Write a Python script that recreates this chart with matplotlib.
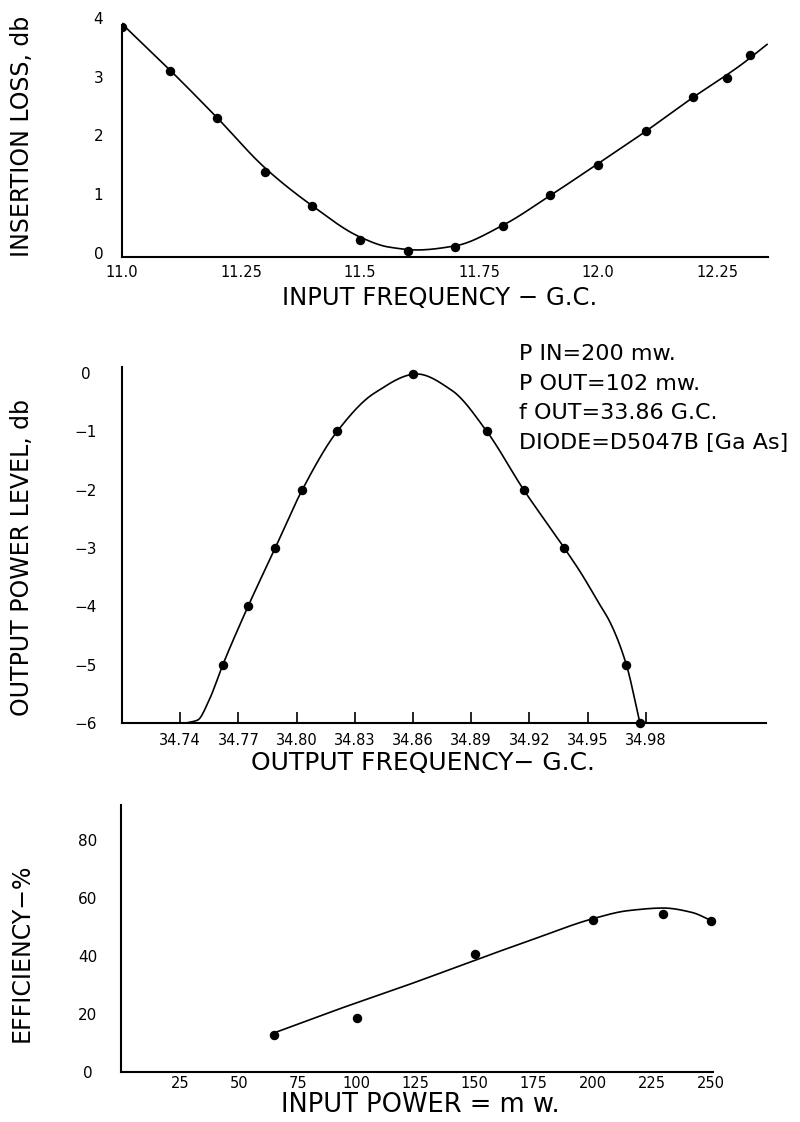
import numpy as np
import matplotlib
matplotlib.use("Agg")
import matplotlib.pyplot as plt

# ---------------- data ----------------
# Panel 1: insertion loss vs input frequency
top_freq = [11.0, 11.1, 11.2, 11.3, 11.4, 11.5, 11.6, 11.7, 11.8, 11.9, 12.0, 12.1, 12.2, 12.27, 12.32]
top_loss = [3.84, 3.1, 2.3, 1.38, 0.8, 0.22, 0.03, 0.1, 0.46, 0.99, 1.5, 2.08, 2.65, 2.98, 3.37]
top_curve_x = [11.0, 11.1, 11.2, 11.3, 11.4, 11.5, 11.56, 11.62, 11.7, 11.8, 11.9, 12.0, 12.1, 12.2, 12.3, 12.355]
top_curve_y = [3.9, 3.12, 2.3, 1.45, 0.8, 0.27, 0.1, 0.05, 0.12, 0.47, 0.98, 1.52, 2.07, 2.65, 3.2, 3.55]
top_xticks = [11.0, 11.25, 11.5, 11.75, 12.0, 12.25]
top_xticklabels = ["11.0", "11.25", "11.5", "11.75", "12.0", "12.25"]
top_yticks = [0, 1, 2, 3, 4]

# Panel 2: output power level vs output frequency
mid_freq = [34.762, 34.775, 34.789, 34.803, 34.821, 34.860, 34.898, 34.917, 34.938, 34.970, 34.977]
mid_level = [-5, -4, -3, -2, -1, -0.02, -1, -2, -3, -5, -6]
mid_curve_x = [34.743, 34.749, 34.755, 34.762, 34.775, 34.789, 34.803, 34.821, 34.840, 34.862,
               34.880, 34.898, 34.917, 34.938, 34.947, 34.955, 34.962, 34.970, 34.977]
mid_curve_y = [-6.0, -5.95, -5.6, -5.0, -4.0, -3.0, -2.0, -1.0, -0.35, -0.02,
               -0.3, -1.0, -2.0, -3.0, -3.45, -3.9, -4.3, -5.0, -6.0]
mid_xticks = [34.74, 34.77, 34.80, 34.83, 34.86, 34.89, 34.92, 34.95, 34.98]
mid_xticklabels = ["34.74", "34.77", "34.80", "34.83", "34.86", "34.89", "34.92", "34.95", "34.98"]
mid_yticks = [0, -1, -2, -3, -4, -5, -6]
mid_yticklabels = ["0", "\u22121", "\u22122", "\u22123", "\u22124", "\u22125", "\u22126"]
notes = ["P IN=200 mw.", "P OUT=102 mw.", "f OUT=33.86 G.C.", "DIODE=D5047B [Ga As]"]

# Panel 3: efficiency vs input power
bot_power = [65, 100, 150, 200, 230, 250]
bot_eff = [12.8, 18.5, 40.5, 52.5, 54.5, 52.2]
bot_curve_x = [65, 90, 125, 150, 175, 200, 215, 230, 242, 250]
bot_curve_y = [13.5, 21.0, 31.0, 38.5, 45.8, 52.8, 55.6, 56.5, 55.0, 52.3]
bot_xticks = [25, 50, 75, 100, 125, 150, 175, 200, 225, 250]
bot_yticks = [0, 20, 40, 60, 80]


def pchip(x, y, xs):
    x = np.asarray(x, float); y = np.asarray(y, float)
    h = np.diff(x); d = np.diff(y) / h
    n = len(x); m = np.zeros(n)
    for k in range(1, n - 1):
        if d[k - 1] * d[k] > 0:
            w1 = 2 * h[k] + h[k - 1]; w2 = h[k] + 2 * h[k - 1]
            m[k] = (w1 + w2) / (w1 / d[k - 1] + w2 / d[k])
    m[0] = d[0]; m[-1] = d[-1]
    idx = np.clip(np.searchsorted(x, xs) - 1, 0, n - 2)
    t = (xs - x[idx]) / h[idx]
    h00 = 2 * t**3 - 3 * t**2 + 1; h10 = t**3 - 2 * t**2 + t
    h01 = -2 * t**3 + 3 * t**2; h11 = t**3 - t**2
    return h00 * y[idx] + h10 * h[idx] * m[idx] + h01 * y[idx + 1] + h11 * h[idx] * m[idx + 1]


plt.rcParams['font.family'] = ['DejaVu Sans']
fig = plt.figure(figsize=(8, 11.22), dpi=100)
W, H = 800, 1122


def axes_px(l, r, b, t):
    return fig.add_axes([l / W, 1 - b / H, (r - l) / W, (b - t) / H])


LW = 1.2
MS = 5.8


def style(ax, ypad):
    for s in ['top', 'right']:
        ax.spines[s].set_visible(False)
    for s in ['left', 'bottom']:
        ax.spines[s].set_linewidth(1.5)
    ax.tick_params(axis='y', length=0, pad=ypad, labelsize=11)
    for lab in ax.get_yticklabels():
        lab.set_horizontalalignment('center')


# ---- top panel ----
ax1 = axes_px(122, 768, 257, 18)
xs = np.linspace(top_curve_x[0], top_curve_x[-1], 400)
ax1.plot(xs, pchip(top_curve_x, top_curve_y, xs), color='black', lw=LW)
ax1.plot(top_freq, top_loss, 'o', color='black', ms=MS)
ax1.set_xlim(11.0, 12.357)
ax1.set_ylim(-0.07, 4.0)
ax1.spines['left'].set_bounds(-0.07, 3.88)
ax1.set_xticks(top_xticks)
ax1.set_xticklabels(top_xticklabels)
ax1.set_yticks(top_yticks)
ax1.set_yticklabels([str(v) for v in top_yticks])
ax1.tick_params(axis='x', length=0, pad=6, labelsize=10.5)
style(ax1, 17)

# ---- middle panel ----
ax2 = axes_px(122, 766, 723, 367)
xs = np.linspace(mid_curve_x[0], mid_curve_x[-1], 400)
ax2.plot(xs, pchip(mid_curve_x, mid_curve_y, xs), color='black', lw=LW, clip_on=False)
ax2.plot(mid_freq, mid_level, 'o', color='black', ms=MS, clip_on=False)
ax2.set_xlim(34.71, 35.042)
ax2.set_ylim(-6.0, 0.1)
ax2.set_xticks(mid_xticks)
ax2.set_xticklabels(mid_xticklabels)
ax2.set_yticks(mid_yticks)
ax2.set_yticklabels(mid_yticklabels)
ax2.tick_params(axis='x', direction='in', length=8, width=1.2, pad=7, labelsize=10.5)
style(ax2, 26)
for i, s in enumerate(notes):
    fig.text(519 / W, 1 - (354 + i * 29.5) / H, s, fontsize=16, ha='left', va='center')

# ---- bottom panel ----
ax3 = axes_px(121, 713, 1072, 805)
xs = np.linspace(bot_curve_x[0], bot_curve_x[-1], 400)
ax3.plot(xs, pchip(bot_curve_x, bot_curve_y, xs), color='black', lw=LW)
ax3.plot(bot_power, bot_eff, 'o', color='black', ms=MS, clip_on=False)
ax3.set_xlim(0, 251)
ax3.set_ylim(0, 92)
ax3.set_xticks(bot_xticks)
ax3.set_xticklabels([str(v) for v in bot_xticks])
ax3.set_yticks(bot_yticks)
ax3.set_yticklabels([str(v) for v in bot_yticks])
ax3.tick_params(axis='x', length=0, pad=3, labelsize=10.5)
style(ax3, 24)

# ---- axis titles ----
fig.text(22 / W, 1 - 136 / H, "INSERTION LOSS, db", rotation=90, fontsize=17, ha='center', va='center')
fig.text(440 / W, 1 - 298 / H, "INPUT FREQUENCY \u2212 G.C.", fontsize=17.5, ha='center', va='center')
fig.text(22 / W, 1 - 557 / H, "OUTPUT POWER LEVEL, db", rotation=90, fontsize=17, ha='center', va='center')
fig.text(423 / W, 1 - 763 / H, "OUTPUT FREQUENCY\u2212 G.C.", fontsize=18, ha='center', va='center')
fig.text(22 / W, 1 - 953 / H, "EFFICIENCY\u2212%", rotation=90, fontsize=17, ha='center', va='center')
fig.text(420 / W, 1 - 1105 / H, "INPUT POWER = m w.", fontsize=18.5, ha='center', va='center')

fig.savefig("out.png", dpi=100)
